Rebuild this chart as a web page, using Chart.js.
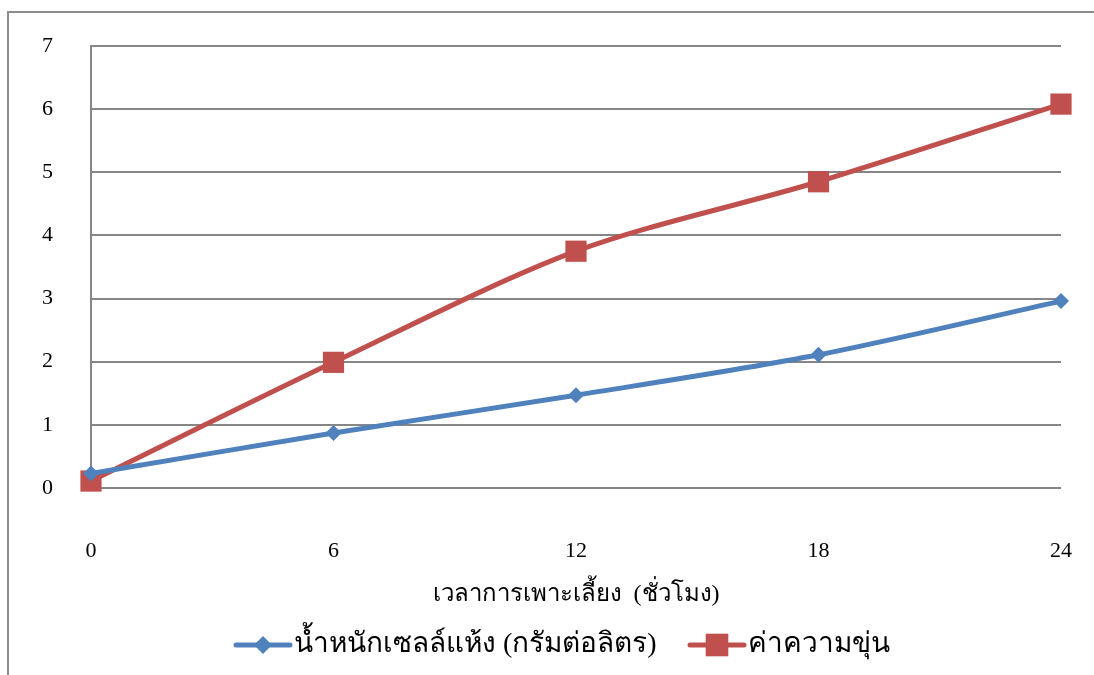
<!DOCTYPE html>
<html>
<head>
<meta charset="utf-8">
<script src="https://cdn.jsdelivr.net/npm/chart.js@4/dist/chart.umd.min.js"></script>
<style>
  html, body { margin: 0; padding: 0; background: #fff; }
  #wrap { position: relative; width: 1094px; height: 675px; }
  #frame { position: absolute; left: 7px; top: 11px; right: -2px; bottom: -2px; border-left: 2px solid #8c8c8c; border-top: 2px solid #8c8c8c; }
  canvas { position: absolute; left: 0; top: 0; }
</style>
</head>
<body>
<div id="wrap">
  <div id="frame"></div>
  <canvas id="chart" width="1094" height="675"></canvas>
</div>
<script>
// hours of cultivation
const hours = [0, 6, 12, 18, 24];
const dryWeight = [0.23, 0.87, 1.47, 2.11, 2.96];
const turbidity = [0.11, 1.99, 3.75, 4.85, 6.08];
const seriesNames = ['น้ำหนักเซลล์แห้ง (กรัมต่อลิตร)', 'ค่าความขุ่น'];
const xTitle = 'เวลาการเพาะเลี้ยง  (ชั่วโมง)';

const BLUE = '#4f81bd';
const RED = '#c0504d';
const SERIF = "'Liberation Serif', 'Times New Roman', serif";

// legend + axis title drawn under the plot, Excel style
const bottomText = {
    id: 'bottomText',
    afterDraw(chart) {
        const ctx = chart.ctx;
        const area = chart.chartArea;
        ctx.save();
        ctx.fillStyle = '#000';
        ctx.textBaseline = 'middle';
        ctx.textAlign = 'center';
        ctx.font = '24px ' + SERIF;
        ctx.fillText(xTitle, (area.left + area.right) / 2, 595);

        ctx.textAlign = 'left';
        ctx.font = '28px ' + SERIF;
        const y = 645;
        const items = [
            { x: 236, color: BLUE, style: 'rectRot', r: 9, text: seriesNames[0] },
            { x: 690, color: RED, style: 'rect', r: 16, text: seriesNames[1] }
        ];
        items.forEach(it => {
            ctx.strokeStyle = it.color;
            ctx.lineWidth = 5;
            ctx.lineCap = 'round';
            ctx.beginPath();
            ctx.moveTo(it.x, y);
            ctx.lineTo(it.x + 54, y);
            ctx.stroke();
            ctx.fillStyle = it.color;
            Chart.helpers.drawPoint(ctx, { pointStyle: it.style, radius: it.r, borderWidth: 0 }, it.x + 27, y);
            ctx.fillStyle = '#000';
            ctx.fillText(it.text, it.x + 58, y);
        });
        ctx.restore();
    }
};

new Chart(document.getElementById('chart'), {
    type: 'line',
    data: {
        datasets: [
            {
                label: seriesNames[0],
                data: hours.map((h, i) => ({ x: h, y: dryWeight[i] })),
                borderColor: BLUE,
                backgroundColor: BLUE,
                borderWidth: 5,
                pointStyle: 'rectRot',
                pointRadius: 8,
                pointBorderWidth: 0,
                tension: 0.3,
                clip: false
            },
            {
                label: seriesNames[1],
                data: hours.map((h, i) => ({ x: h, y: turbidity[i] })),
                borderColor: RED,
                backgroundColor: RED,
                borderWidth: 5,
                pointStyle: 'rect',
                pointRadius: 15,
                pointBorderWidth: 0,
                tension: 0.3,
                clip: false
            }
        ]
    },
    options: {
        responsive: false,
        animation: false,
        layout: { padding: { top: 46, right: 33, left: 0, bottom: 0 } },
        plugins: {
            legend: { display: false },
            tooltip: { enabled: false }
        },
        scales: {
            x: {
                type: 'linear',
                min: 0,
                max: 24,
                afterFit: (scale) => {
                    scale.height = 675 - 488;
                    scale.paddingLeft = 0;
                    scale.paddingRight = 0;
                },
                afterBuildTicks: (scale) => { scale.ticks = hours.map(v => ({ value: v })); },
                grid: { display: false, drawTicks: false },
                border: { display: false },
                ticks: {
                    padding: 50,
                    color: '#000',
                    font: { family: SERIF, size: 22 }
                }
            },
            y: {
                min: 0,
                max: 7,
                afterFit: (scale) => {
                    scale.width = 91;
                    scale.paddingTop = 0;
                    scale.paddingBottom = 0;
                },
                grid: { color: '#868686', lineWidth: 2, drawTicks: false },
                border: { display: true, color: '#868686', width: 2 },
                ticks: {
                    stepSize: 1,
                    padding: 38,
                    color: '#000',
                    font: { family: SERIF, size: 22 }
                }
            }
        }
    },
    plugins: [bottomText]
});
</script>
</body>
</html>
